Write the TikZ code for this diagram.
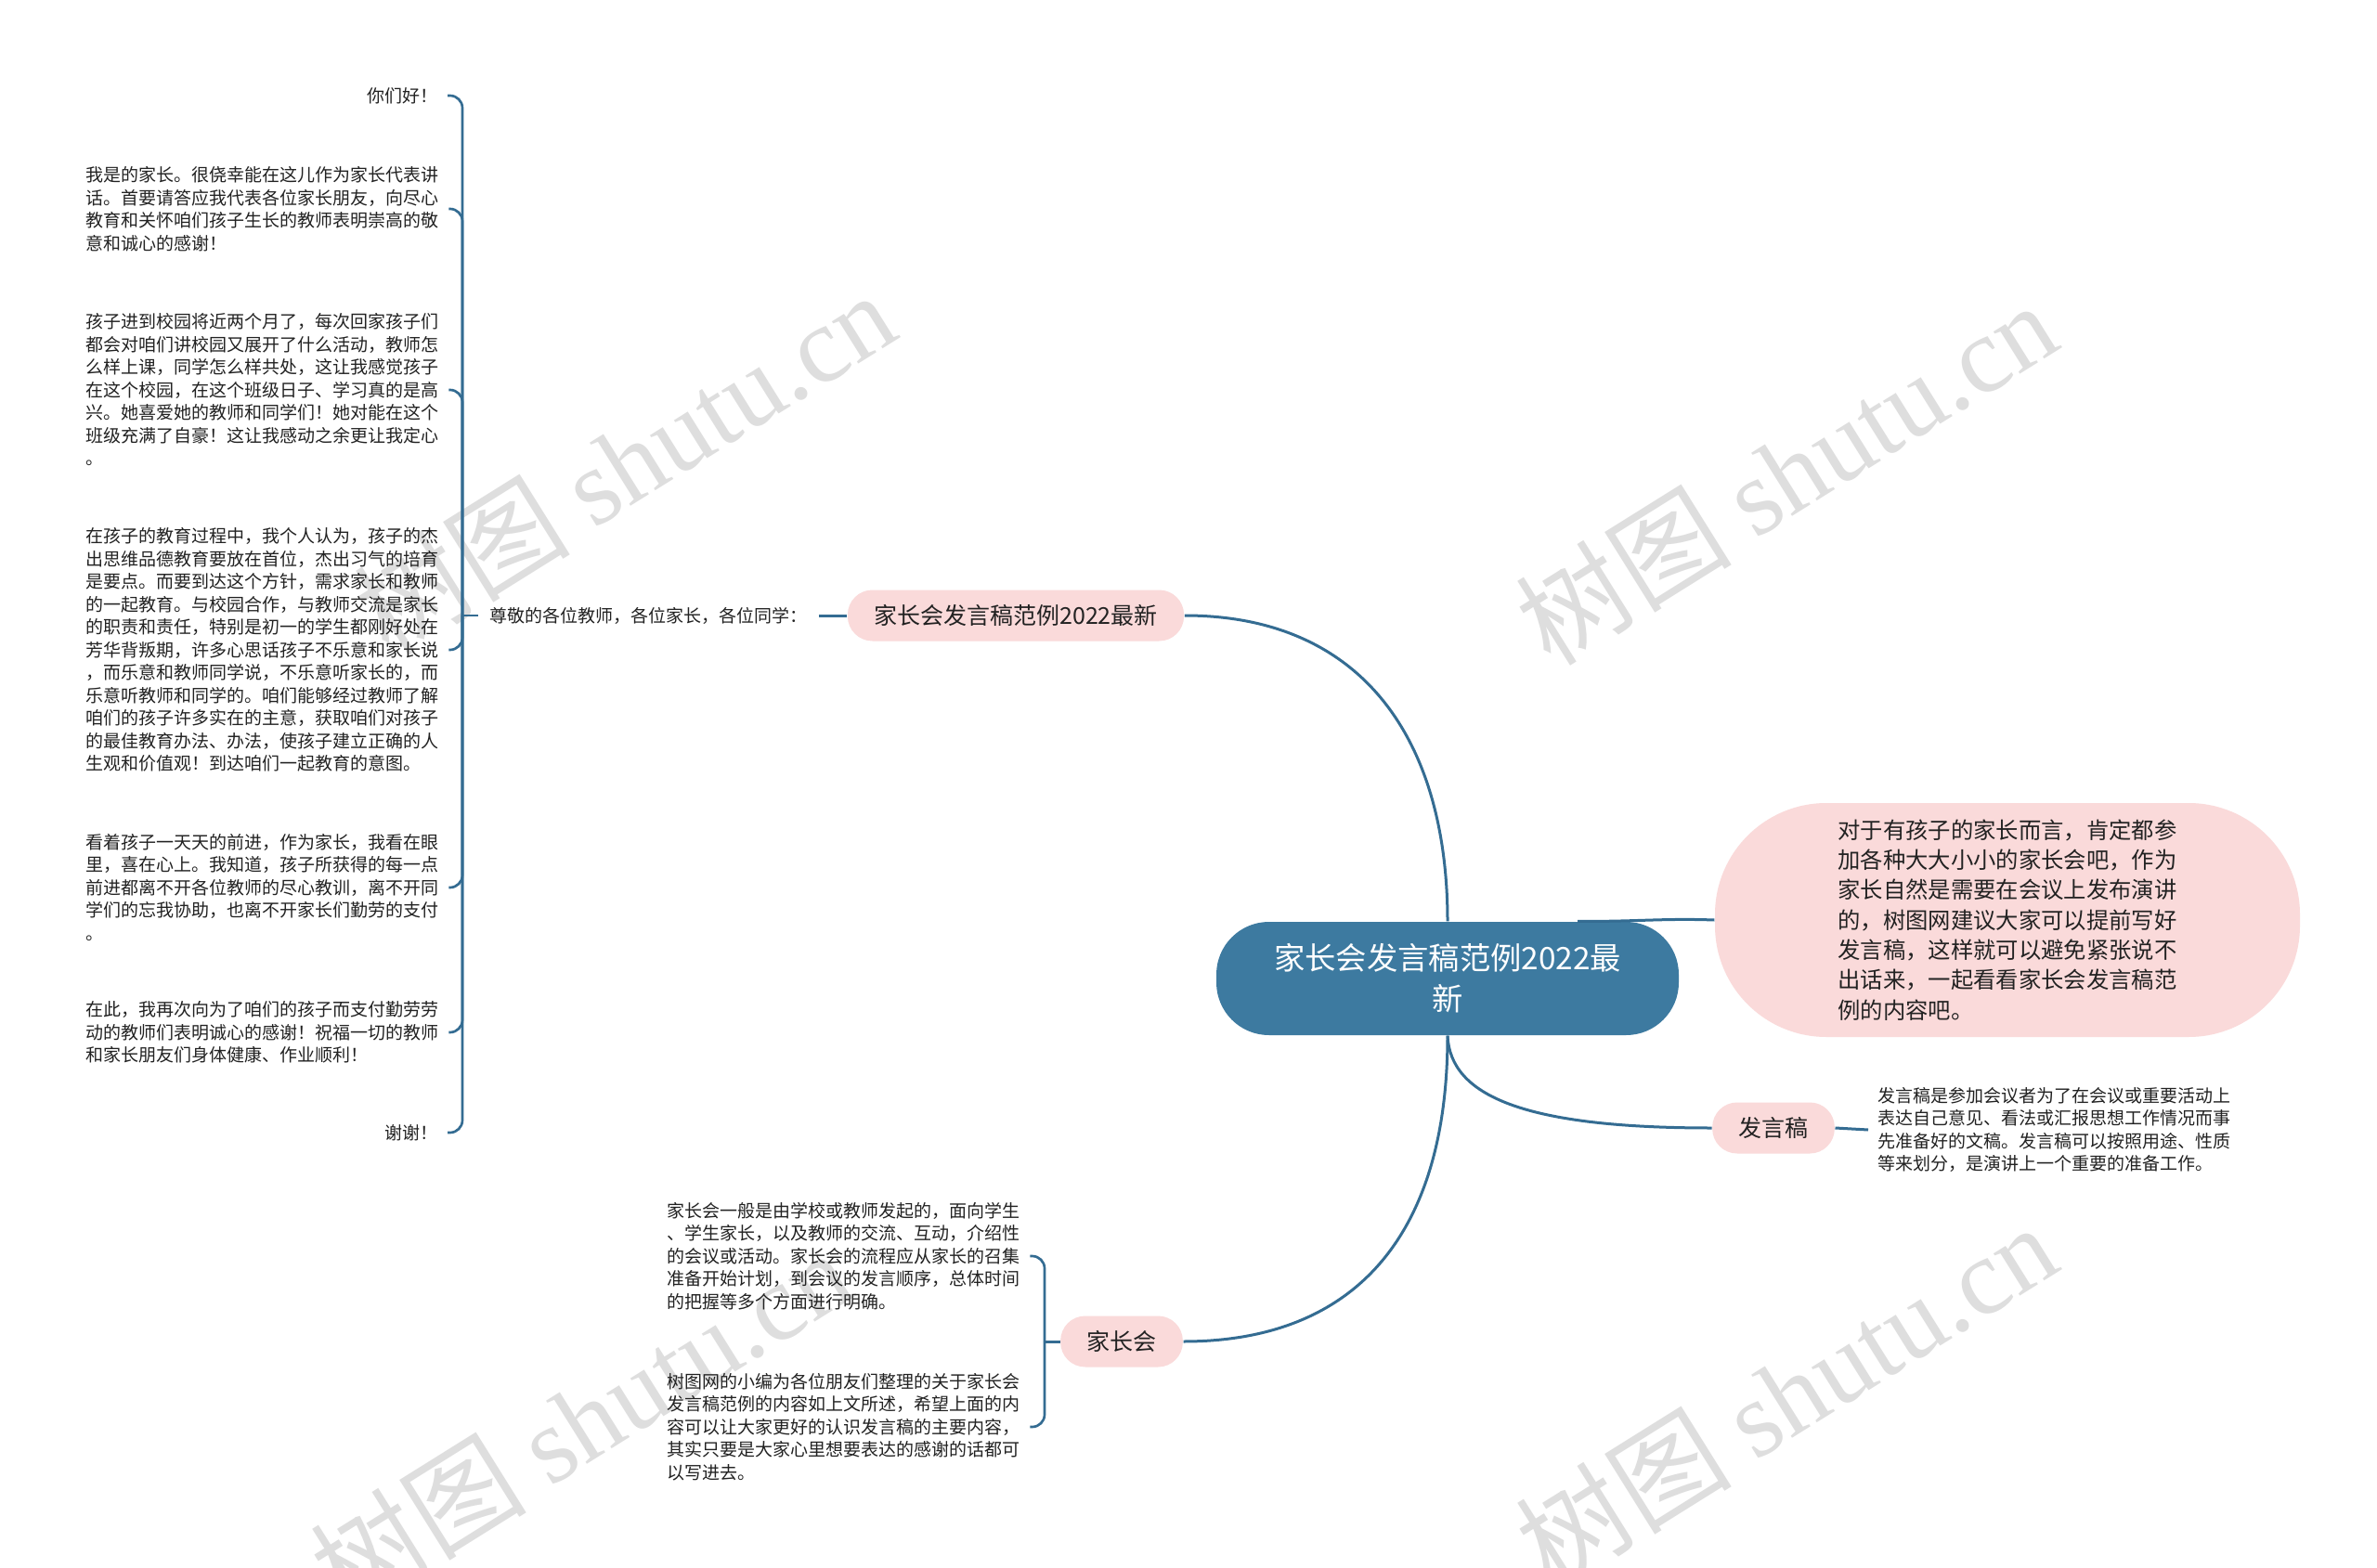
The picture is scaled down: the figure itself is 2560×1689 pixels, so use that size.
\documentclass[tikz,border=0pt]{standalone}
\usepackage{fontspec}
\setmainfont{Noto Sans CJK SC}
\newfontfamily\wmlat{Liberation Serif}
\usetikzlibrary{calc}
\definecolor{conn}{RGB}{52,108,146}
\definecolor{mainblue}{RGB}{61,122,160}
\definecolor{pinkbg}{RGB}{250,218,218}
\definecolor{txt}{RGB}{34,34,34}
\definecolor{wm}{RGB}{222,222,222}
\begin{document}
\begin{tikzpicture}[x=0.3pt,y=-0.3pt,
  small/.style={font=\fontsize{5.7}{7.35}\selectfont, text=txt, inner ysep=2pt, inner xsep=3pt, align=left},
  pinknode/.style={fill=pinkbg, rounded corners=8pt, minimum height=16.5pt, inner xsep=8.5pt, font=\fontsize{7.5}{9}\selectfont, text=txt},
  edge/.style={draw=conn, line width=0.9pt},
  brk/.style={draw=conn, line width=0.8pt, rounded corners=4pt},
  wmstyle/.style={text=wm, rotate=32, font=\fontsize{35}{35}\selectfont}]
\useasboundingbox[fill=white] (0,0) rectangle (2560,1689);

% watermarks
\node[wmstyle] (w1) at (672,498) {树图 {\wmlat shutu.cn}};
\node[wmstyle] (w2) at (1923,509) {树图 {\wmlat shutu.cn}};
\node[wmstyle] (w3) at (1923,1502) {树图 {\wmlat shutu.cn}};
\node[wmstyle] (w4) at (625,1530) {树图 {\wmlat shutu.cn}};

% main nodes
\node[fill=mainblue, text=white, rounded corners=17pt, minimum width=149.4pt, minimum height=36.6pt, align=center, font=\fontsize{10}{13.2}\selectfont] (c) at (1559,1054) {家长会发言稿范例2022最\\新};

\node[fill=pinkbg, rounded corners=36pt, minimum width=189pt, minimum height=75.6pt, align=left, font=\fontsize{7.3}{9.7}\selectfont, text=txt] (b) at (2162,991) {对于有孩子的家长而言，肯定都参\\加各种大大小小的家长会吧，作为\\家长自然是需要在会议上发布演讲\\的，树图网建议大家可以提前写好\\发言稿，这样就可以避免紧张说不\\出话来，一起看看家长会发言稿范\\例的内容吧。};

\node[pinknode] (p1) at (1094,663) {家长会发言稿范例2022最新};
\node[pinknode] (p2) at (1208,1445) {家长会};
\node[pinknode] (p3) at (1910,1215) {发言稿};

% left column texts
\node[small, anchor=west, inner xsep=3.6pt] (zj) at (515,663) {尊敬的各位教师，各位家长，各位同学：};
\node[small, anchor=east] (t1) at (482,103) {你们好！};
\node[small, anchor=west] (t2) at (82,225) {我是的家长。很侥幸能在这儿作为家长代表讲\\话。首要请答应我代表各位家长朋友，向尽心\\教育和关怀咱们孩子生长的教师表明崇高的敬\\意和诚心的感谢！};
\node[small, anchor=west] (t3) at (82,420) {孩子进到校园将近两个月了，每次回家孩子们\\都会对咱们讲校园又展开了什么活动，教师怎\\么样上课，同学怎么样共处，这让我感觉孩子\\在这个校园，在这个班级日子、学习真的是高\\兴。她喜爱她的教师和同学们！她对能在这个\\班级充满了自豪！这让我感动之余更让我定心\\。};
\node[small, anchor=west] (t4) at (82,700) {在孩子的教育过程中，我个人认为，孩子的杰\\出思维品德教育要放在首位，杰出习气的培育\\是要点。而要到达这个方针，需求家长和教师\\的一起教育。与校园合作，与教师交流是家长\\的职责和责任，特别是初一的学生都刚好处在\\芳华背叛期，许多心思话孩子不乐意和家长说\\，而乐意和教师同学说，不乐意听家长的，而\\乐意听教师和同学的。咱们能够经过教师了解\\咱们的孩子许多实在的主意，获取咱们对孩子\\的最佳教育办法、办法，使孩子建立正确的人\\生观和价值观！到达咱们一起教育的意图。};
\node[small, anchor=west] (t5) at (82,956) {看着孩子一天天的前进，作为家长，我看在眼\\里，喜在心上。我知道，孩子所获得的每一点\\前进都离不开各位教师的尽心教训，离不开同\\学们的忘我协助，也离不开家长们勤劳的支付\\。};
\node[small, anchor=west] (t6) at (82,1112) {在此，我再次向为了咱们的孩子而支付勤劳劳\\动的教师们表明诚心的感谢！祝福一切的教师\\和家长朋友们身体健康、作业顺利！};
\node[small, anchor=east] (t7) at (482,1220) {谢谢！};

% lower texts
\node[small, anchor=west] (k1) at (708,1353) {家长会一般是由学校或教师发起的，面向学生\\、学生家长，以及教师的交流、互动，介绍性\\的会议或活动。家长会的流程应从家长的召集\\准备开始计划，到会议的发言顺序，总体时间\\的把握等多个方面进行明确。};
\node[small, anchor=west] (k2) at (708,1537) {树图网的小编为各位朋友们整理的关于家长会\\发言稿范例的内容如上文所述，希望上面的内\\容可以让大家更好的认识发言稿的主要内容，\\其实只要是大家心里想要表达的感谢的话都可\\以写进去。};

% right text
\node[small, anchor=west] (f1) at (2012,1217) {发言稿是参加会议者为了在会议或重要活动上\\表达自己意见、看法或汇报思想工作情况而事\\先准备好的文稿。发言稿可以按照用途、性质\\等来划分，是演讲上一个重要的准备工作。};

% coordinates
\coordinate (lb) at (498,663);
\coordinate (kb) at (1125,1445);
\coordinate (cb) at ($(c.north)+(140,0)$);

% connectors
\draw[edge] (c.north) .. controls (1559,800) and (1470,663) .. (p1.east);
\draw[edge] (c.south) .. controls (1559,1330) and (1460,1445) .. (p2.east);
\draw[edge] (c.south) .. controls (1562,1180) and (1640,1215) .. (p3.west);
\draw[edge] (cb) .. controls (1760,993) and (1790,989) .. (b.west);
\draw[edge] (p1.west) -- (zj.east);
\draw[edge] (p2.west) -- (kb);
\draw[edge] (p3.east) -- (f1.west);

\draw[brk] (zj.west) -- (lb);
\foreach \t in {t1,t2,t3,t4,t5,t6,t7} { \draw[brk] (\t.east) -| (lb); }
\foreach \t in {k1,k2} { \draw[brk] (\t.east) -| (kb); }
\end{tikzpicture}
\end{document}
